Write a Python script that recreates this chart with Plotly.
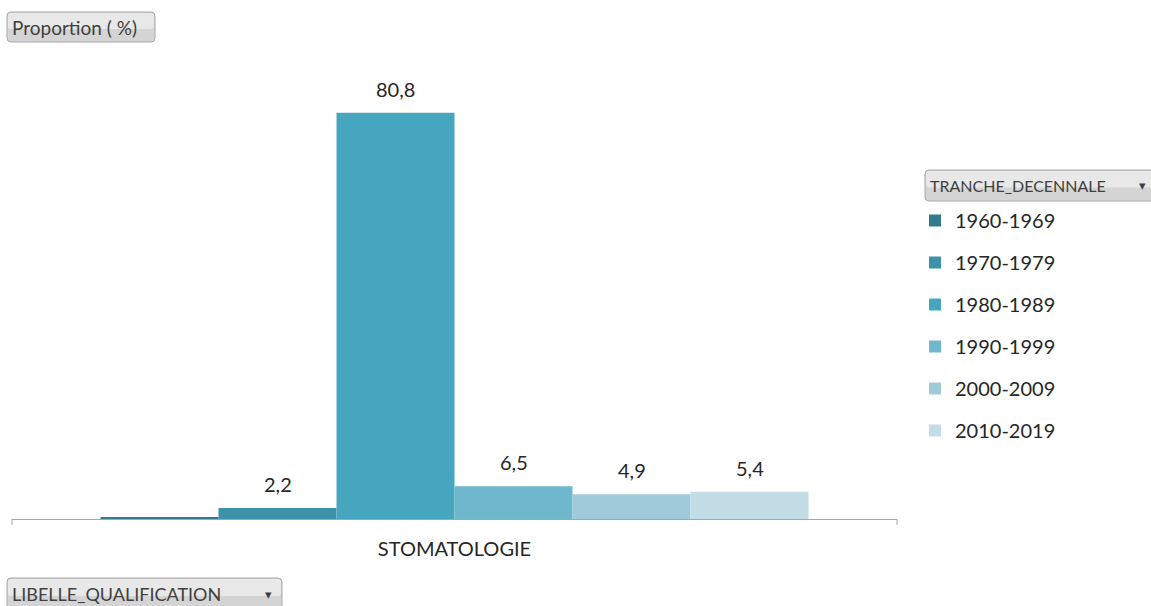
import plotly.graph_objects as go

categories = ["STOMATOLOGIE"]
series_names = ["1960-1969", "1970-1979", "1980-1989", "1990-1999", "2000-2009", "2010-2019"]
series_values = [0.2, 2.2, 80.8, 6.5, 4.9, 5.4]
series_labels = ["", "2,2", "80,8", "6,5", "4,9", "5,4"]
series_colors = ["#337C8E", "#3D91A8", "#47A6BF", "#6EB7CC", "#A0CADA", "#C2DDE6"]

W, H = 1151, 606
L, R, T, B = 12, 254, 60, 87
PW, PH = W - L - R, H - T - B
FONT = "Lato, Carlito, Calibri, sans-serif"
BARGAP = 0.2


def px(x):
    return (x - L) / PW


def py(y):
    return (H - B - y) / PH


fig = go.Figure()
n = len(series_names)
annotations = []
for k, (name, val, lab, col) in enumerate(zip(series_names, series_values, series_labels, series_colors)):
    fig.add_trace(go.Bar(
        x=categories, y=[val], name=name, marker=dict(color=col, line=dict(width=0)),
        legendgroup=name,
    ))
    # data label centred above each bar of the group
    offset = -(1 - BARGAP) / 2 + (k + 0.5) * (1 - BARGAP) / n
    if lab:
        annotations.append(dict(xref="x", yref="y", x=offset, y=val, text=lab,
                                yanchor="bottom", xanchor="center", yshift=10, showarrow=False,
                                font=dict(size=20, color="#262626", family=FONT)))

shapes = []


def rounded(x0, y0, x1, y1, r):
    return (f"M {px(x0 + r)},{py(y0)} L {px(x1 - r)},{py(y0)} Q {px(x1)},{py(y0)} {px(x1)},{py(y0 + r)} "
            f"L {px(x1)},{py(y1 - r)} Q {px(x1)},{py(y1)} {px(x1 - r)},{py(y1)} "
            f"L {px(x0 + r)},{py(y1)} Q {px(x0)},{py(y1)} {px(x0)},{py(y1 - r)} "
            f"L {px(x0)},{py(y0 + r)} Q {px(x0)},{py(y0)} {px(x0 + r)},{py(y0)} Z")


def button(x0, y0, x1, y1, label, size, arrow=None):
    shapes.append(dict(type="path", xref="paper", yref="paper", path=rounded(x0, y0, x1, y1, 4),
                       line=dict(color="#A8A8A8", width=1), fillcolor="#D4D4D4", layer="above"))
    shapes.append(dict(type="path", xref="paper", yref="paper",
                       path=rounded(x0 + 1, y0 + 1, x1 - 1, (y0 + y1) / 2 + 2, 3),
                       line=dict(width=0), fillcolor="#E8E8E8", layer="above"))
    annotations.append(dict(xref="paper", yref="paper", x=px(x0 + 3), y=py((y0 + y1) / 2),
                            xanchor="left", yanchor="middle", text=label, showarrow=False,
                            font=dict(size=size, color="#404040", family=FONT)))
    if arrow:
        annotations.append(dict(xref="paper", yref="paper", x=px(x1 - 14), y=py((y0 + y1) / 2),
                                xanchor="center", yanchor="middle", text=arrow, showarrow=False,
                                font=dict(size=13, color="#404040", family="DejaVu Sans")))


button(7, 12, 155, 42, "Proportion ( %)", 19)
button(925, 170, 1156, 201, "TRANCHE_DECENNALE", 16, "▾")
button(7, 578, 282, 610, "LIBELLE_QUALIFICATION", 18, "▾")

# end ticks of the category axis
for xx in (0, 1):
    shapes.append(dict(type="line", xref="paper", yref="paper", x0=xx, x1=xx, y0=0, y1=-6 / PH,
                       line=dict(color="#A6A6A6", width=1)))

fig.update_layout(
    width=W, height=H,
    margin=dict(l=L, r=R, t=T, b=B),
    paper_bgcolor="white", plot_bgcolor="white",
    separators=", ",
    barmode="group", bargap=BARGAP, bargroupgap=0,
    font=dict(family=FONT, size=16, color="#262626"),
    xaxis=dict(showline=True, linecolor="#A6A6A6", linewidth=1, ticks="", showgrid=False,
               tickfont=dict(size=20, color="#262626", family=FONT), ticklabelstandoff=12),
    yaxis=dict(range=[0, 91.3], visible=False, showgrid=False, zeroline=False),
    legend=dict(x=px(915), y=py(201), xanchor="left", yanchor="top",
                font=dict(size=20, color="#262626", family=FONT),
                tracegroupgap=13, itemwidth=30, bgcolor="rgba(0,0,0,0)"),
    showlegend=True,
    shapes=shapes, annotations=annotations,
)

fig.write_html("out.html", config={"displayModeBar": False},
               post_script="document.body.style.margin='0';document.body.style.overflow='hidden';")
